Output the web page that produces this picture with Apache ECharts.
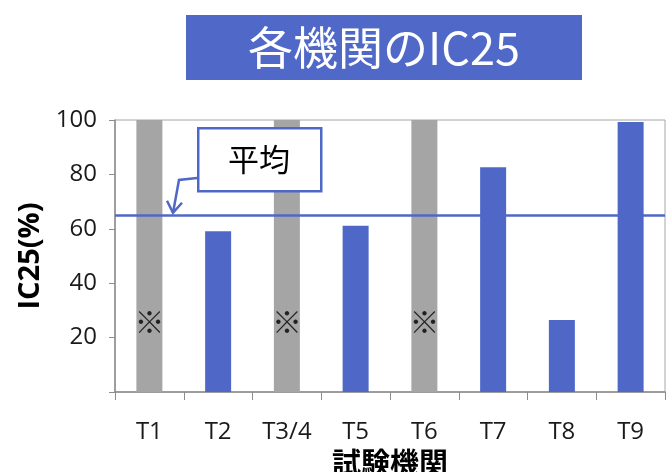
<!DOCTYPE html>
<html>
<head>
<meta charset="utf-8">
<script src="https://cdn.jsdelivr.net/npm/echarts@6/dist/echarts.min.js"></script>
<style>
  html, body { margin: 0; padding: 0; background: #fff; }
  #chart { width: 667px; height: 472px; }
</style>
</head>
<body>
<div id="chart"></div>
<script>
// data
const labs = ['T1', 'T2', 'T3/4', 'T5', 'T6', 'T7', 'T8', 'T9'];
const ic25 = [null, 59.1, null, 61.1, null, 82.6, 26.5, 99.3];
const notCalc = [100, null, 100, null, 100, null, null, null];   // ※ 算出不可
const noteLevel = [26, null, 26, null, 26, null, null, null];
const avgVal = 64.8;

const blue = '#4f68c8';
const gray = '#a5a5a5';
const jp = '"Noto Sans CJK JP", "Noto Sans", sans-serif';
const lat = '"Open Sans", sans-serif';

const chart = echarts.init(document.getElementById('chart'));

const option = {
  animation: false,
  grid: {
    left: 115, right: 2, top: 120, bottom: 80,
    outerBoundsMode: 'none',
    containLabel: false,
    show: true, borderColor: '#a6a6a6', borderWidth: 1
  },
  xAxis: {
    type: 'category',
    data: labs,
    name: '試験機関',
    nameLocation: 'middle',
    nameGap: 52,
    nameTextStyle: { fontFamily: jp, fontSize: 29, fontWeight: 'bold', color: '#000' },
    axisLine: { lineStyle: { color: '#8c8c8c', width: 1.5 } },
    axisTick: { show: true, alignWithLabel: false, length: 8, lineStyle: { color: '#8c8c8c' } },
    axisLabel: { margin: 28, fontFamily: lat, fontSize: 24, color: '#1a1a1a' }
  },
  yAxis: {
    type: 'value',
    min: 0, max: 100, interval: 20,
    name: 'IC25(%)',
    nameLocation: 'middle',
    nameGap: 70,
    nameRotate: 90,
    nameTextStyle: { fontFamily: lat, fontSize: 29, fontWeight: 'bold', color: '#000' },
    axisLine: { show: true, lineStyle: { color: '#8c8c8c', width: 1.5 } },
    axisTick: { show: true, length: 6, lineStyle: { color: '#8c8c8c' } },
    splitLine: { show: false },
    axisLabel: {
      margin: 18,
      fontFamily: lat, fontSize: 24, color: '#1a1a1a',
      formatter: v => (v === 0 ? '' : v)
    }
  },
  series: [
    {
      name: 'gray',
      type: 'bar',
      data: notCalc,
      barWidth: 26,
      barGap: '-100%',
      itemStyle: { color: gray },
      z: 2
    },
    {
      name: 'IC25',
      type: 'bar',
      data: ic25,
      barWidth: 26,
      itemStyle: { color: blue },
      z: 2,
      markLine: {
        silent: true,
        symbol: 'none',
        label: { show: false },
        lineStyle: { color: blue, width: 2.5, type: 'solid' },
        data: [{ yAxis: avgVal }],
        z: 3
      }
    },
    {
      name: 'note',
      type: 'scatter',
      data: noteLevel,
      symbolSize: 0,
      label: {
        show: true,
        position: 'inside',
        formatter: '※',
        fontFamily: jp,
        fontSize: 30,
        fontWeight: 'bold',
        color: '#000'
      },
      z: 4
    }
  ]
};

chart.setOption(option);

// decorations: title box and the 平均 callout
const avgY = chart.convertToPixel({ yAxisIndex: 0 }, avgVal);
const tipX = 173;
chart.setOption({
  graphic: [
    {
      type: 'rect', left: 186, top: 15,
      shape: { width: 396, height: 65 },
      style: { fill: '#5069c8' }
    },
    {
      type: 'text', x: 384, y: 48,
      style: {
        text: '各機関のIC25', fill: '#fff',
        font: '45px "Noto Sans CJK JP", sans-serif',
        align: 'center', verticalAlign: 'middle'
      }
    },
    {
      type: 'rect', left: 197, top: 127,
      shape: { width: 123, height: 63 },
      style: { fill: '#fff', stroke: blue, lineWidth: 2.5 },
      z: 10
    },
    {
      type: 'text', x: 259, y: 159, z: 11,
      style: {
        text: '平均', fill: '#000',
        font: '31px "Noto Sans CJK JP", sans-serif',
        align: 'center', verticalAlign: 'middle'
      }
    },
    {
      type: 'polyline', z: 10,
      shape: { points: [[197, 178], [179, 180], [tipX, avgY - 3]] },
      style: { stroke: blue, lineWidth: 2.5, fill: null }
    },
    {
      type: 'polyline', z: 10,
      shape: { points: [[tipX - 6, avgY - 15], [tipX, avgY - 3], [tipX + 9, avgY - 13]] },
      style: { stroke: blue, lineWidth: 2.5, fill: null }
    }
  ]
});

window.addEventListener('resize', () => chart.resize());
</script>
</body>
</html>
